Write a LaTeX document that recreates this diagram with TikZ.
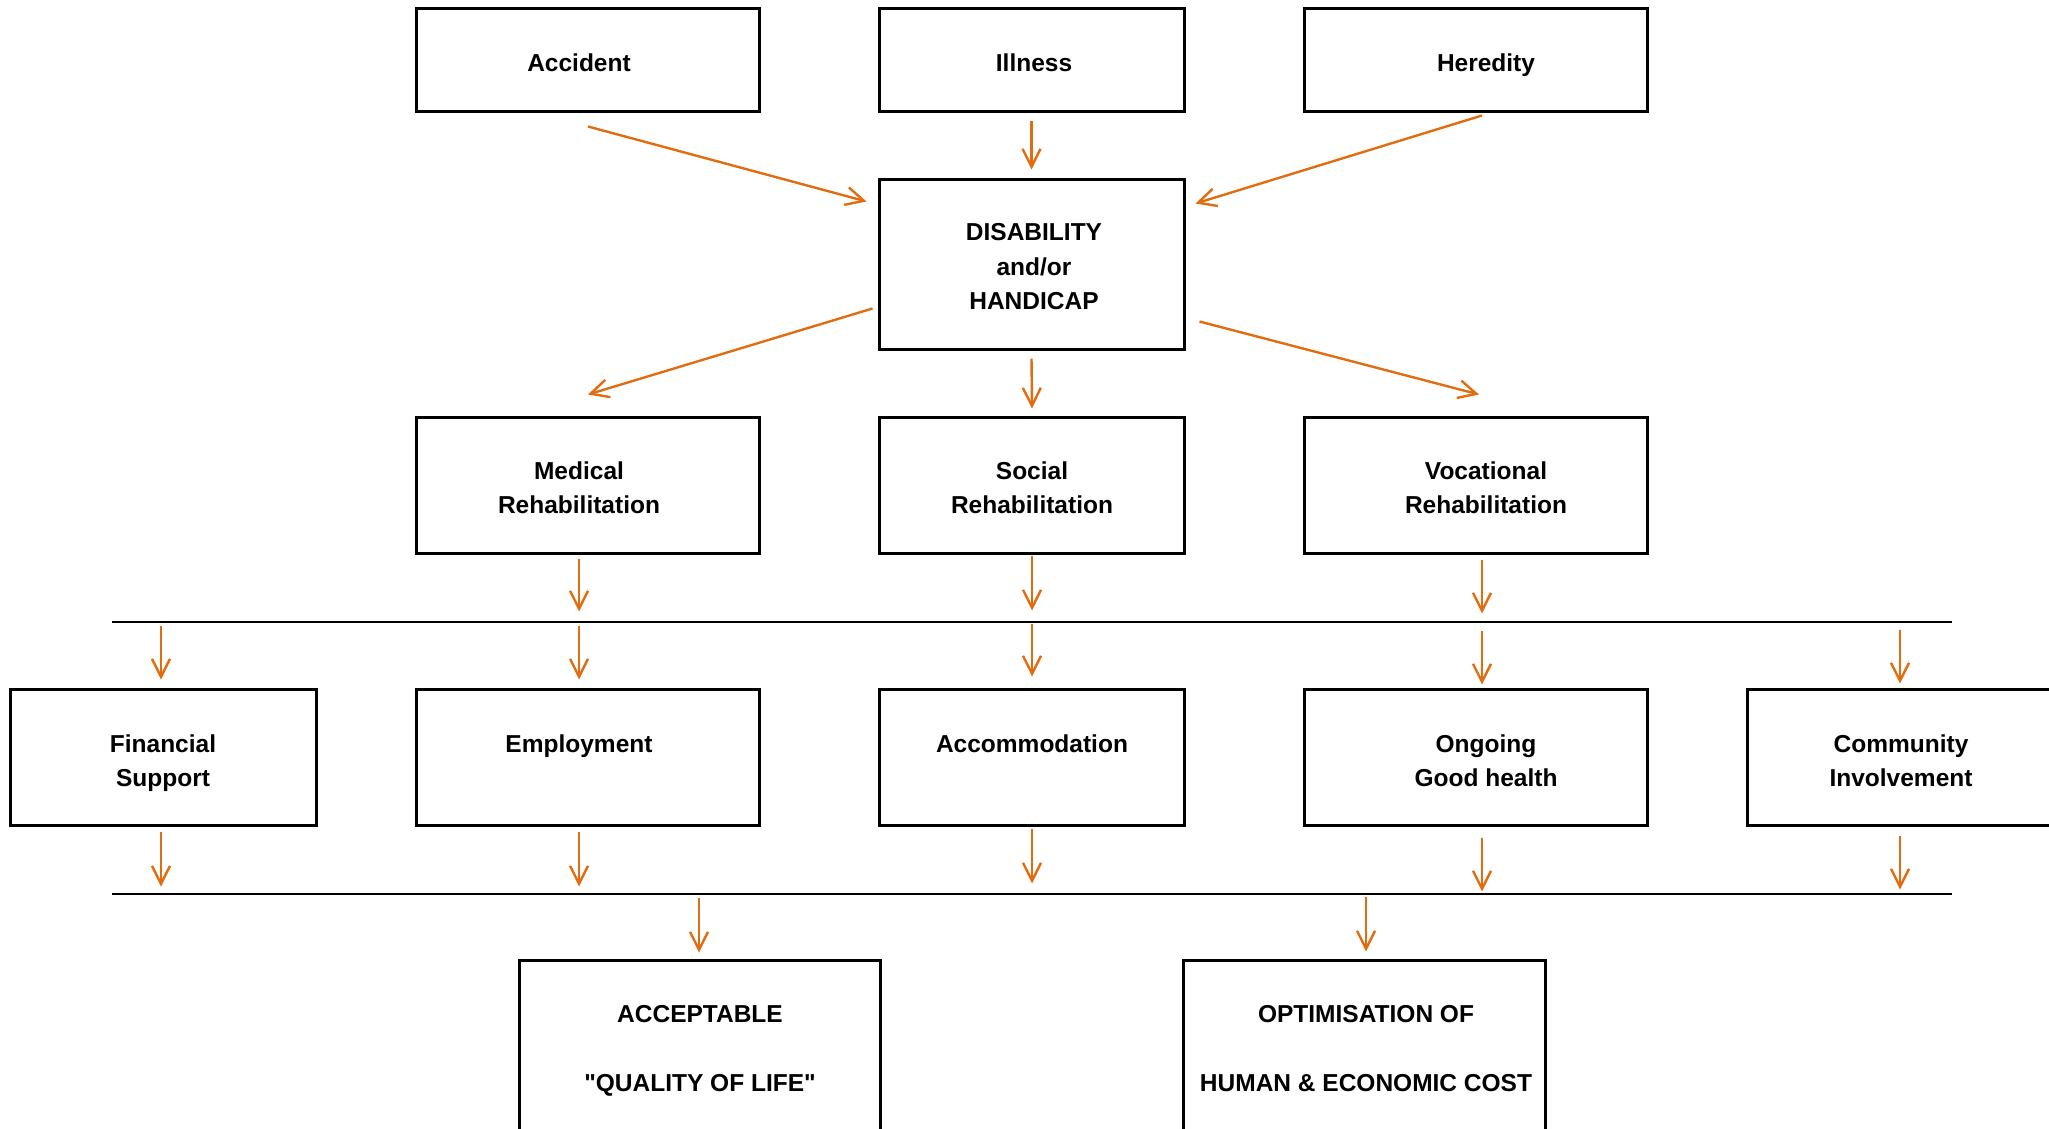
\documentclass[tikz,border=0pt]{standalone}
\usepackage{fontspec}
\newfontfamily\lsans{Liberation Sans}
\usetikzlibrary{arrows.meta,calc}
\definecolor{arr}{RGB}{226,108,16}
\begin{document}
\begin{tikzpicture}[x=1pt,y=-1pt,
  box/.style={draw,line width=3pt,inner sep=0pt},
  txt/.style={font=\lsans\bfseries\fontsize{24.5pt}{34.3pt}\selectfont,align=center,inner sep=0pt,anchor=base},
  arw/.style={draw=arr,line width=2.4pt,-{Straight Barb[length=18pt,width=18pt,line width=2.4pt]}},
  hline/.style={line width=2.2pt}]
\useasboundingbox (0,0) rectangle (2049,1128);
\clip (0,0) rectangle (2049,1128);
% top row
\node[box,minimum width=343pt,minimum height=103pt] (acc) at (587.5,59.5) {};
\node[box,minimum width=305pt,minimum height=103pt] (ill) at (1031.5,59.5) {};
\node[box,minimum width=343pt,minimum height=103pt] (her) at (1475.5,59.5) {};
\node[txt] (accT) at (579,71) {Accident};
\node[txt] (illT) at (1034,71) {Illness};
\node[txt] (herT) at (1486,71) {Heredity};
% disability
\node[box,minimum width=305pt,minimum height=170pt] (dis) at (1031.5,264) {};
\node[txt] (disT) at (1034,309.3) {DISABILITY\\and/or\\HANDICAP};
% rehabilitation row
\node[box,minimum width=343pt,minimum height=136pt] (med) at (587.5,485) {};
\node[box,minimum width=305pt,minimum height=136pt] (soc) at (1031.5,485) {};
\node[box,minimum width=343pt,minimum height=136pt] (voc) at (1475.5,485) {};
\node[txt] (medT) at (579,513.8) {Medical\\Rehabilitation};
\node[txt] (socT) at (1032,513.8) {Social\\Rehabilitation};
\node[txt] (vocT) at (1486,513.8) {Vocational\\Rehabilitation};
% line 1
\coordinate (L1w) at (112,622);
\coordinate (L1e) at (1952,622);
\draw[hline] (L1w) -- (L1e);
% outcome row
\node[box,minimum width=306pt,minimum height=136pt] (fin) at (163,757) {};
\node[box,minimum width=343pt,minimum height=136pt] (emp) at (587.5,757) {};
\node[box,minimum width=305pt,minimum height=136pt] (acm) at (1031.5,757) {};
\node[box,minimum width=343pt,minimum height=136pt] (ong) at (1475.5,757) {};
\node[box,minimum width=313pt,minimum height=136pt] (com) at (1903.5,757) {};
\node[txt] (finT) at (163,786.3) {Financial\\Support};
\node[txt] (empT) at (579,752) {Employment};
\node[txt] (acmT) at (1032,752) {Accommodation};
\node[txt] (ongT) at (1486,786.3) {Ongoing\\Good health};
\node[txt] (comT) at (1901,786.3) {Community\\Involvement};
% line 2
\coordinate (L2w) at (112,894);
\coordinate (L2e) at (1952,894);
\draw[hline] (L2w) -- (L2e);
% bottom row
\node[box,minimum width=361pt,minimum height=174pt] (acq) at (699.5,1047) {};
\node[box,minimum width=362pt,minimum height=174pt] (opt) at (1364,1047) {};
\node[txt] (acqT) at (700,1091.3) {ACCEPTABLE\\[34.3pt]"QUALITY OF LIFE"};
\node[txt] (optT) at (1366,1091.5) {OPTIMISATION OF\\[34.3pt]HUMAN \& ECONOMIC COST};
% arrows into disability
\draw[arw] ($(acc.south)+(0.5,14)$) -- ($(dis.north west)+(-11,24)$);
\draw[arw] ($(ill.south)+(0,8)$) -- ($(dis.north)+(0,-8)$);
\draw[arw] ($(her.south)+(6.5,3)$) -- ($(dis.north east)+(10,26)$);
% arrows out of disability
\draw[arw] ($(dis.south west)+(-5,-42)$) -- ($(med.north)+(0.5,-21)$);
\draw[arw] ($(dis.south)+(0,8)$) -- ($(soc.north)+(0.5,-7)$);
\draw[arw] ($(dis.south east)+(14,-29)$) -- ($(voc.north)+(3.5,-21)$);
% rehabilitation to line 1
\draw[arw] ($(med.south)+(-8.5,4)$) -- ($(med.south)+(-8.5,57)$);
\draw[arw] ($(soc.south)+(0.5,1)$) -- ($(soc.south)+(0.5,56)$);
\draw[arw] ($(voc.south)+(6.5,5)$) -- ($(voc.south)+(6.5,59)$);
% line 1 to outcomes
\draw[arw] ($(fin.north)+(-2,-62)$) -- ($(fin.north)+(-2,-8)$);
\draw[arw] ($(emp.north)+(-8.5,-62)$) -- ($(emp.north)+(-8.5,-8)$);
\draw[arw] ($(acm.north)+(0.5,-64)$) -- ($(acm.north)+(0.5,-11)$);
\draw[arw] ($(ong.north)+(6.5,-57)$) -- ($(ong.north)+(6.5,-3)$);
\draw[arw] ($(com.north)+(-3.5,-58)$) -- ($(com.north)+(-3.5,-4)$);
% outcomes to line 2
\draw[arw] ($(fin.south)+(-2,5)$) -- ($(fin.south)+(-2,60)$);
\draw[arw] ($(emp.south)+(-8.5,5)$) -- ($(emp.south)+(-8.5,60)$);
\draw[arw] ($(acm.south)+(0.5,2)$) -- ($(acm.south)+(0.5,57)$);
\draw[arw] ($(ong.south)+(6.5,11)$) -- ($(ong.south)+(6.5,65)$);
\draw[arw] ($(com.south)+(-3.5,9)$) -- ($(com.south)+(-3.5,63)$);
% line 2 to final boxes
\draw[arw] ($(acq.north)+(-0.5,-61)$) -- ($(acq.north)+(-0.5,-6)$);
\draw[arw] ($(opt.north)+(2,-62)$) -- ($(opt.north)+(2,-7)$);
\end{tikzpicture}
\end{document}
